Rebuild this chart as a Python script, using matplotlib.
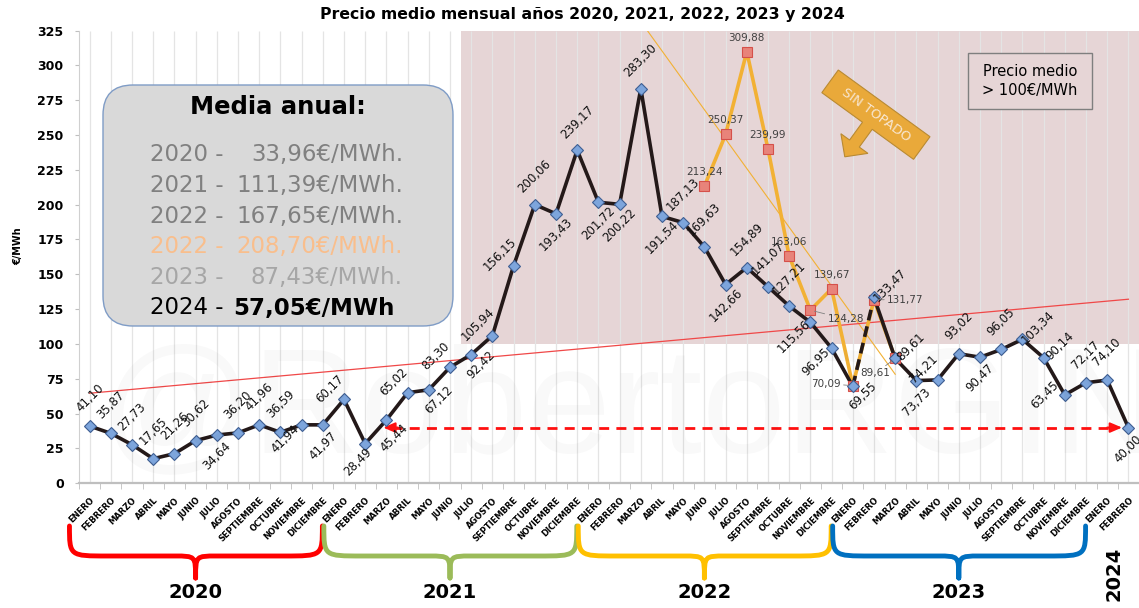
import numpy as np
import matplotlib
matplotlib.use("Agg")
import matplotlib.pyplot as plt
from matplotlib.patches import Rectangle, FancyBboxPatch, Polygon, PathPatch
from matplotlib.path import Path
from matplotlib.transforms import IdentityTransform, blended_transform_factory

# ------------------------------------------------------------------ data
months = ["ENERO", "FEBRERO", "MARZO", "ABRIL", "MAYO", "JUNIO", "JULIO",
          "AGOSTO", "SEPTIEMBRE", "OCTUBRE", "NOVIEMBRE", "DICIEMBRE"]
price_2020 = [41.10, 35.87, 27.73, 17.65, 21.26, 30.62, 34.64, 36.20, 41.96, 36.59, 41.94, 41.97]
price_2021 = [60.17, 28.49, 45.44, 65.02, 67.12, 83.30, 92.42, 105.94, 156.15, 200.06, 193.43, 239.17]
price_2022 = [201.72, 200.22, 283.30, 191.54, 187.13, 169.63, 142.66, 154.89, 141.07, 127.21, 115.56, 96.95]
price_2023 = [69.55, 133.47, 89.61, 73.73, 74.21, 93.02, 90.47, 96.05, 103.34, 90.14, 63.45, 72.17]
price_2024 = [74.10, 40.00]
# "sin topado" (without gas price cap) series, JUNIO 2022 .. MARZO 2023
sin_topado = [213.24, 250.37, 309.88, 239.99, 163.06, 124.28, 139.67, 70.09, 131.77, 89.61]
sin_topado_start_month = 5      # JUNIO
sin_topado_start_year = 2       # 2022 (third year block)
years = ["2020", "2021", "2022", "2023"]
last_year = "2024"
threshold = 100
media_years = ["2020 -", "2021 -", "2022 -", "2022 -", "2023 -", "2024 -"]
media_values = ["33,96€/MWh.", "111,39€/MWh.", "167,65€/MWh.", "208,70€/MWh.", "87,43€/MWh.", "57,05€/MWh"]
title = "Precio medio mensual años 2020, 2021, 2022, 2023 y 2024"

# label placement codes (style only)
black_pos = ["a", "a", "a", "a", "a", "a", "b", "a", "a", "a", "bl", "b",
             "l", "bl2", "br", "l", "r", "l", "r", "l", "l", "a", "b", "a",
             "b", "b", "a", "b", "a", "a", "b", "a", "a", "a", "bl", "bl",
             "r", "ar", "ar", "b", "l", "a", "b", "a", "ar", "ar", "L", "a",
             "a", "b"]
orange_pos = ["a", "a", "a", "a", "a", "r", "a", "l", "r2", "bl"]

# ------------------------------------------------------------------ setup
W, H = 1139, 608
fig = plt.figure(figsize=(W / 100, H / 100), dpi=100)
ax = fig.add_axes([79 / W, 1 - 483.3 / H, (W - 79) / W, (483.3 - 30.5) / H])

price = np.array(price_2020 + price_2021 + price_2022 + price_2023 + price_2024)
idx = np.arange(len(price))
xlabels = (months * 5)[:len(price)]
o_start = 12 * sin_topado_start_year + sin_topado_start_month
o_idx = np.arange(o_start, o_start + len(sin_topado))
o_val = np.array(sin_topado)

BLACK = "#241919"
ORANGE = "#F2B134"
PINK = "#E6D5D6"

def fmt(v):
    return f"{v:.2f}".replace(".", ",")

# shaded area > 100
ax.add_patch(Rectangle((17.5, threshold), 60, 400, fc=PINK, ec="none", zorder=0.3))
# vertical category lines
ax.vlines(idx, 0, 325, color="#E4E4E4", lw=0.9, zorder=0.6)

# trend lines
c_all = np.polyfit(idx, price, 1)
ax.plot(idx[[0, -1]], np.polyval(c_all, idx[[0, -1]]), color="#F04848", lw=0.9, zorder=2.5)
c_o = np.polyfit(o_idx, o_val, 1)
xo = np.array([o_idx[0] - 5, o_idx[-1]])
ax.plot(xo, np.polyval(c_o, xo), color=ORANGE, lw=0.8, zorder=2.4)

# orange series
ax.plot(o_idx, o_val, color=ORANGE, lw=2.6, zorder=3)
ax.plot(o_idx, o_val, ls="none", marker="s", ms=6.5, mfc="#E8837A", mec="#D5504A", mew=0.8, zorder=5)

# black series
brk = 36
ax.plot(idx[:brk + 1], price[:brk + 1], color=BLACK, lw=2.6, zorder=4, solid_joinstyle="round")
ax.plot(idx[brk:brk + 2], price[brk:brk + 2], color=BLACK, lw=2.6, ls=(0, (3, 1.7)), zorder=4)
ax.plot(idx[brk + 1:], price[brk + 1:], color=BLACK, lw=2.6, zorder=4, solid_joinstyle="round")
ax.plot(idx, price, ls="none", marker="D", ms=6, mfc="#7DA5DC", mec="#3E5E92", mew=0.8, zorder=6)

# black labels (rotated 45)
offs = {"a": (0, -28), "b": (0, 21), "l": (-14, -11), "r": (10, 10),
        "bl": (-16, 14), "ar": (16, -12), "L": (-20, 0),
        "bl2": (-7, 18), "br": (8, 18)}
for i, v in enumerate(price):
    dx, dy = offs[black_pos[i]]
    ax.annotate(fmt(v), (i, v), xytext=(dx, -dy), textcoords="offset pixels",
                rotation=45, rotation_mode="anchor", ha="center", va="center",
                fontsize=8.5, color="#111111", zorder=7)

# orange labels
ooffs = {"a": ((0, -14), "center", False), "r": ((17, 9), "left", True),
         "l": ((-12, -2), "right", True), "r2": ((13, 0), "left", True),
         "bl": ((-5, 15), "right", True)}
for i, v in zip(o_idx, o_val):
    (dx, dy), ha, lead = ooffs[orange_pos[i - o_start]]
    ap = dict(arrowstyle="-", color="#808080", lw=0.6, shrinkA=0, shrinkB=3) if lead else None
    ax.annotate(fmt(v), (i, v), xytext=(dx, -dy), textcoords="offset pixels",
                ha=ha, va="center", fontsize=7.5, color="#404040", zorder=7,
                arrowprops=ap)

# dashed red arrow at the last value
yl = price[-1]
xl, xr = 13.85, 48.7
ax.plot([xl + 0.4, xr - 0.4], [yl, yl], color="#FF1010", lw=2, ls=(0, (3.6, 2.6)), zorder=3.5)
for tip, tail in ((xl, xl + 0.7), (xr, xr - 0.7)):
    ax.annotate("", xy=(tip, yl), xytext=(tail, yl),
                arrowprops=dict(arrowstyle="-|>,head_length=0.7,head_width=0.3",
                                color="#FF1010", lw=1.5, shrinkA=0, shrinkB=0), zorder=3.6)

# axes styling
ax.set_xlim(-0.5, 49.35)
ax.set_ylim(0, 325)
ax.set_yticks(np.arange(0, 326, 25))
ax.set_yticklabels([str(t) for t in range(0, 326, 25)], fontsize=9, fontweight="bold")
ax.tick_params(axis="y", length=3, color="#BFBFBF", pad=8)
ax.set_xticks(idx)
ax.set_xticklabels(xlabels, rotation=45, ha="right", va="top", rotation_mode="anchor",
                   fontsize=6, fontweight="bold")
ax.tick_params(axis="x", which="major", length=0, pad=9)
ax.set_xticks(np.arange(-0.5, len(price), 1), minor=True)
ax.tick_params(axis="x", which="minor", length=4, color="#BFBFBF")
for s in ("top", "right"):
    ax.spines[s].set_visible(False)
ax.spines["left"].set_color("#D0D0D0")
ax.spines["bottom"].set_color("#BFBFBF")
ax.spines["bottom"].set_linewidth(1.6)
ax.patch.set_alpha(0)

def fx(x):
    return x / W

def fy(y):
    return 1 - y / H

fig.text(fx(18), fy(246), "€/MWh", rotation=90, fontsize=7, fontweight="bold",
         ha="center", va="center")
fig.text(fx(582), fy(15), title, fontsize=11.3, fontweight="bold", ha="center", va="center")

# watermark
fig.text(fx(100), fy(452), "@RobertoRGING", fontsize=108, family="Liberation Sans",
         color="black", alpha=0.025, ha="left", va="baseline", zorder=0.1)

# Media anual box
box = FancyBboxPatch((103, H - 326), 350, 241, boxstyle="round,pad=0,rounding_size=30",
                     fc="#D9D9D9", ec="#7F9CC6", lw=1, transform=IdentityTransform(), zorder=8)
fig.add_artist(box)
fig.text(fx(278), fy(107), "Media anual:", fontsize=17.5, fontweight="bold",
         ha="center", va="center", zorder=9)
line_colors = ["#808080", "#808080", "#808080", "#F9BE8C", "#A6A6A6", "#000000"]
for k, (yr, val) in enumerate(zip(media_years, media_values)):
    yy = 155 + 30.6 * k
    last = k == len(media_years) - 1
    fig.text(fx(150), fy(yy), yr, fontsize=16.5, color=line_colors[k], ha="left",
             va="center", zorder=9)
    fig.text(fx(395 if last else 403), fy(yy), val, fontsize=16.5, color=line_colors[k],
             ha="right", va="center", zorder=9, fontweight="bold" if last else "normal")

# Precio medio > 100 box
fig.add_artist(Rectangle((968, H - 109), 124, 56, fc=PINK, ec="#7F7F7F", lw=1,
                         transform=IdentityTransform(), zorder=8))
fig.text(fx(1030), fy(81), "Precio medio\n> 100€/MWh", fontsize=10.5, ha="center",
         va="center", linespacing=1.25, zorder=9)

# SIN TOPADO banner arrow
TL = np.array([838.3, 70.0])
u = np.array([0.8087, 0.5882])
v = np.array([-0.5882, 0.8087])
L, T = 113.4, 28.0
BL = TL + T * v
s0, sw, hw, sd, hl = 56.3, 6.0, 16.7, 22.0, 16.4
pts = [TL, TL + L * u, BL + L * u,
       BL + (s0 + sw) * u, BL + (s0 + sw) * u + sd * v,
       BL + (s0 + hw) * u + sd * v, BL + s0 * u + (sd + hl) * v,
       BL + (s0 - hw) * u + sd * v, BL + (s0 - sw) * u + sd * v,
       BL + (s0 - sw) * u, BL]
pts = np.array([[p[0], H - p[1]] for p in pts])
fig.add_artist(Polygon(pts, closed=True, fc="#E9A93A", ec="#B98A32", lw=0.8,
                       transform=IdentityTransform(), zorder=8))
c = TL + 56.7 * u + 14 * v
fig.text(fx(c[0]), fy(c[1]), "SIN TOPADO", rotation=-36, rotation_mode="anchor",
         fontsize=9.5, color="#F8E6D0", ha="center", va="center", zorder=9)

# year braces
btr = blended_transform_factory(ax.transData, IdentityTransform())
brace_colors = ["#FF0000", "#9BBB59", "#FFC000", "#0070C0"]
y_top, y_mid, y_tip = H - 526, H - 556, H - 578
ro, ri = 1.8, 1.0
for k, yr in enumerate(years):
    x0, x1 = 12 * k - 0.95, 12 * k + 10.98
    xt = 12 * k + 5
    verts = [(x0, y_top), (x0, y_mid), (x0, y_mid), (x0 + ro, y_mid),
             (xt - ri, y_mid), (xt, y_mid), (xt, y_mid), (xt, y_tip),
             (xt, y_mid), (xt, y_mid), (xt + ri, y_mid),
             (x1 - ro, y_mid), (x1, y_mid), (x1, y_mid), (x1, y_top)]
    codes = [Path.MOVETO, Path.CURVE4, Path.CURVE4, Path.CURVE4,
             Path.LINETO, Path.CURVE4, Path.CURVE4, Path.CURVE4,
             Path.CURVE4, Path.CURVE4, Path.CURVE4,
             Path.LINETO, Path.CURVE4, Path.CURVE4, Path.CURVE4]
    fig.add_artist(PathPatch(Path(verts, codes), fc="none", ec=brace_colors[k], lw=3.5,
                             transform=btr, capstyle="round", joinstyle="round"))
    ax.text(xt, fy(593), yr, transform=blended_transform_factory(ax.transData, fig.transFigure),
            fontsize=14, fontweight="bold", ha="center", va="center", clip_on=False)
ax.text(48.3, fy(574), last_year, transform=blended_transform_factory(ax.transData, fig.transFigure),
        fontsize=14, fontweight="bold", ha="center", va="center", rotation=90, clip_on=False)

fig.savefig("out.png", dpi=100)
